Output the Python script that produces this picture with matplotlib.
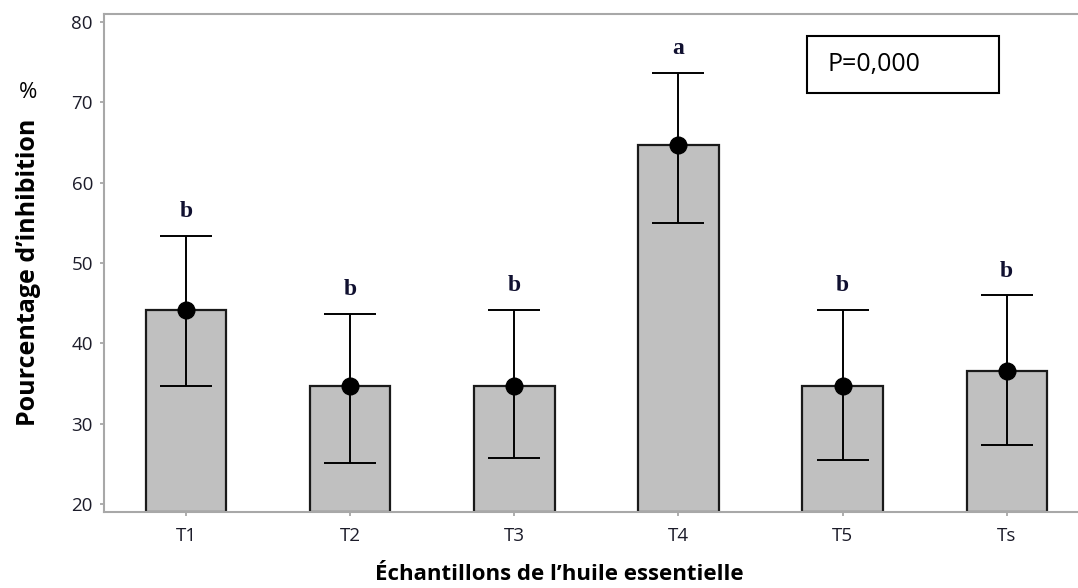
import matplotlib
matplotlib.use("Agg")
import matplotlib.pyplot as plt
from matplotlib.patches import Rectangle

categories = ["T1", "T2", "T3", "T4", "T5", "Ts"]
means = [44.1, 34.7, 34.7, 64.7, 34.7, 36.5]
ci_upper = [53.4, 43.7, 44.2, 73.7, 44.2, 46.0]
ci_lower = [34.7, 25.1, 25.7, 55.0, 25.5, 27.3]
groups = ["b", "b", "b", "a", "b", "b"]
yticks = [20, 30, 40, 50, 60, 70, 80]

fig = plt.figure(figsize=(10.78, 5.88), dpi=100)
ax = fig.add_axes([104/1078, 1 - 511.7/588, 1 - 104/1078, (511.7 - 14)/588])

x = list(range(len(categories)))
ax.bar(x, [m - 19.04 for m in means], bottom=19.04, width=0.49,
       color="#c0c0c0", edgecolor="#1a1a1a", linewidth=1.6, zorder=2)
yerr = [[m - lo for m, lo in zip(means, ci_lower)],
        [hi - m for m, hi in zip(means, ci_upper)]]
ax.errorbar(x, means, yerr=yerr, fmt="o", color="black", ecolor="black",
            elinewidth=1.4, capsize=19, capthick=1.4, markersize=12, zorder=3)

for xi, hi, g in zip(x, ci_upper, groups):
    ax.text(xi, hi + 3.0, g, ha="center", va="center", fontsize=17,
            fontweight="bold", family="Liberation Serif", color="#101030")

ax.set_xlim(-0.50, 5.434)
ax.set_ylim(19.04, 81.0)
ax.set_xticks(x)
ax.set_xticklabels(categories)
ax.set_yticks(yticks)
for lab in ax.get_xticklabels() + ax.get_yticklabels():
    lab.set_family("Open Sans")
    lab.set_fontsize(13.5)
    lab.set_color("#1c1c2a")
ax.tick_params(axis="both", color="#a0a0a0", length=3, width=1.2)
ax.tick_params(axis="x", pad=8)
ax.tick_params(axis="y", pad=5)

for s in ["top", "left", "bottom"]:
    ax.spines[s].set_color("#a8a8a8")
    ax.spines[s].set_linewidth(1.5)
ax.spines["right"].set_visible(False)

fig.text(29/1078, 1 - 272/588, "Pourcentage d\u2019inhibition", rotation=90,
         ha="center", va="center", fontsize=18, fontweight="bold",
         family="Open Sans", color="black")
fig.text(28/1078, 1 - 93/588, "%", ha="center", va="center", fontsize=16,
         family="Open Sans", color="black")
fig.text(559/1078, 1 - 575/588, "\u00c9chantillons de l\u2019huile essentielle",
         ha="center", va="center", fontsize=16, fontweight="bold",
         family="Open Sans", color="black")

fig.patches.append(Rectangle((806.7/1078, 1 - 93.3/588), (999.3 - 806.7)/1078,
                             (93.3 - 35.7)/588, transform=fig.transFigure,
                             fill=False, edgecolor="black", linewidth=1.5))
fig.text(828/1078, 1 - 65/588, "P=0,000", ha="left", va="center",
         fontsize=18, family="Open Sans", color="black")

fig.savefig("out.png", dpi=100)
